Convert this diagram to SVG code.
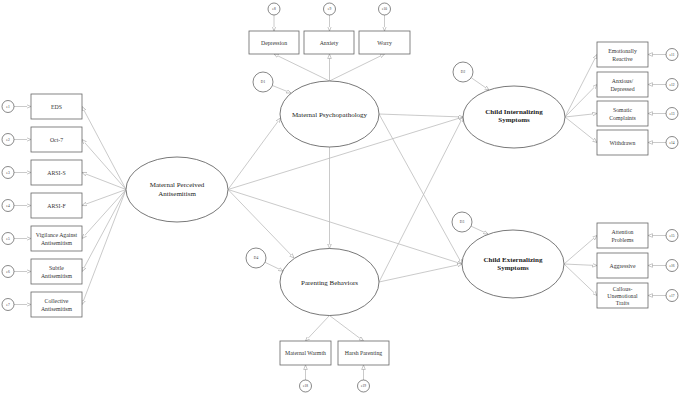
<svg xmlns="http://www.w3.org/2000/svg" width="680" height="394" viewBox="0 0 680 394">
<defs>
<marker id="ah" viewBox="0 0 10 10" refX="10" refY="5" markerWidth="4.5" markerHeight="4.5" orient="auto" markerUnits="userSpaceOnUse">
<path d="M0,1 L10,5 L0,9 Z" fill="#fff" stroke="#999" stroke-width="1.2"/>
</marker>
<style>
.c line{stroke:#bdbdbd;stroke-width:0.8;marker-end:url(#ah);fill:none}
.box{fill:#fff;stroke:#666;stroke-width:0.8}
.ell{fill:#fff;stroke:#555;stroke-width:0.8}
.err{fill:#fff;stroke:#555;stroke-width:0.7}
.bt{font-family:"Liberation Serif",serif;font-size:5.8px;fill:#333;text-anchor:middle}
.et{font-family:"Liberation Serif",serif;font-size:7px;fill:#222;text-anchor:middle}
.eb{font-family:"Liberation Serif",serif;font-size:7px;fill:#222;text-anchor:middle;font-weight:bold}
.rt{font-family:"Liberation Serif",serif;font-size:3.5px;fill:#333;text-anchor:middle}
</style>
</defs>
<rect width="680" height="394" fill="#fff"/>

<g class="c" id="connectors">
<!-- error to left boxes -->
<line x1="14" y1="106.5" x2="31" y2="106.5"/>
<line x1="14" y1="139.5" x2="31" y2="139.5"/>
<line x1="14" y1="172.5" x2="31" y2="172.5"/>
<line x1="14" y1="205.5" x2="31" y2="205.5"/>
<line x1="14" y1="238.5" x2="31" y2="238.5"/>
<line x1="14" y1="271.5" x2="31" y2="271.5"/>
<line x1="14" y1="304.5" x2="31" y2="304.5"/>
<!-- MPA to left boxes -->
<line x1="126" y1="189.5" x2="82" y2="106.5"/>
<line x1="126" y1="189.5" x2="82" y2="139.5"/>
<line x1="126" y1="189.5" x2="82" y2="172.5"/>
<line x1="126" y1="189.5" x2="82" y2="205.5"/>
<line x1="126" y1="189.5" x2="82" y2="238.5"/>
<line x1="126" y1="189.5" x2="82" y2="271.5"/>
<line x1="126" y1="189.5" x2="82" y2="304.5"/>
<!-- top errors -->
<line x1="274" y1="15" x2="274" y2="31"/>
<line x1="329.5" y1="15" x2="329.5" y2="31"/>
<line x1="384.5" y1="15" x2="384.5" y2="31"/>
<!-- MP to top boxes -->
<line x1="329.5" y1="81" x2="274" y2="54"/>
<line x1="329.5" y1="81" x2="329.5" y2="54"/>
<line x1="329.5" y1="81" x2="384.5" y2="54"/>
<!-- right errors -->
<line x1="666" y1="54.5" x2="648" y2="54.5"/>
<line x1="666" y1="84.5" x2="648" y2="84.5"/>
<line x1="666" y1="113.5" x2="648" y2="113.5"/>
<line x1="666" y1="142.5" x2="648" y2="142.5"/>
<line x1="666" y1="235.5" x2="648" y2="235.5"/>
<line x1="666" y1="265.5" x2="648" y2="265.5"/>
<line x1="666" y1="295.5" x2="648" y2="295.5"/>
<!-- CIS to boxes -->
<line x1="565" y1="117" x2="597" y2="54.5"/>
<line x1="565" y1="117" x2="597" y2="84.5"/>
<line x1="565" y1="117" x2="597" y2="113.5"/>
<line x1="565" y1="117" x2="597" y2="142.5"/>
<!-- CES to boxes -->
<line x1="564" y1="264" x2="597" y2="235.5"/>
<line x1="564" y1="264" x2="597" y2="265.5"/>
<line x1="564" y1="264" x2="597" y2="295.5"/>
<!-- bottom -->
<line x1="305.5" y1="380" x2="305.5" y2="365"/>
<line x1="363.5" y1="380" x2="363.5" y2="365"/>
<line x1="329.5" y1="315.5" x2="305.5" y2="341"/>
<line x1="329.5" y1="315.5" x2="363.5" y2="341"/>
<!-- disturbances -->
<line x1="272.4" y1="85.5" x2="291" y2="93"/>
<line x1="471.2" y1="77.7" x2="489" y2="90"/>
<line x1="471.1" y1="226.2" x2="488" y2="234"/>
<line x1="265" y1="262.3" x2="283" y2="271"/>
<!-- structural -->
<line x1="228" y1="189.5" x2="280.5" y2="118"/>
<line x1="228" y1="189.5" x2="463" y2="117"/>
<line x1="228" y1="189.5" x2="294" y2="258"/>
<line x1="228" y1="189.5" x2="462" y2="264"/>
<line x1="329.5" y1="147" x2="329.5" y2="248.5"/>
<line x1="379" y1="114" x2="463" y2="117"/>
<line x1="379" y1="114" x2="462" y2="264"/>
<line x1="379" y1="282" x2="463" y2="117"/>
<line x1="379" y1="282" x2="462" y2="264"/>
</g>

<!-- latent variables -->
<g id="mpa"><ellipse class="ell" cx="177" cy="189.5" rx="51" ry="32.5"/><text class="et" x="177" y="187">Maternal Perceived</text><text class="et" x="177" y="195.5">Antisemitism</text></g>
<g id="mp"><ellipse class="ell" cx="329.5" cy="114" rx="49.5" ry="33"/><text class="et" x="329.5" y="116.5">Maternal Psychopathology</text></g>
<g id="pb"><ellipse class="ell" cx="329.5" cy="282" rx="49.5" ry="33.5"/><text class="et" x="329.5" y="284.5">Parenting Behaviors</text></g>
<g id="cis"><ellipse class="ell" cx="514" cy="117" rx="51" ry="31"/><text class="eb" x="514" y="113.5">Child Internalizing</text><text class="eb" x="514" y="122">Symptoms</text></g>
<g id="ces"><ellipse class="ell" cx="513" cy="264" rx="51" ry="34"/><text class="eb" x="513" y="261.5">Child Externalizing</text><text class="eb" x="513" y="270">Symptoms</text></g>

<!-- disturbances -->
<g id="d1"><circle class="err" cx="263" cy="82" r="10"/><text class="rt" x="263" y="83.3">D1</text></g>
<g id="d2"><circle class="err" cx="463" cy="72" r="10"/><text class="rt" x="463" y="73.3">D2</text></g>
<g id="d3"><circle class="err" cx="462" cy="222" r="10"/><text class="rt" x="462" y="223.3">D3</text></g>
<g id="d4"><circle class="err" cx="256" cy="258" r="10"/><text class="rt" x="256" y="259.3">D4</text></g>

<!-- left indicators -->
<g id="eds"><rect class="box" x="31" y="94" width="51" height="25"/><text class="bt" x="56.5" y="108.5">EDS</text></g>
<g id="oct7"><rect class="box" x="31" y="127" width="51" height="25"/><text class="bt" x="56.5" y="141.5">Oct-7</text></g>
<g id="arsis"><rect class="box" x="31" y="160" width="51" height="25"/><text class="bt" x="56.5" y="174.5">ARSI-S</text></g>
<g id="arsif"><rect class="box" x="31" y="193" width="51" height="25"/><text class="bt" x="56.5" y="207.5">ARSI-F</text></g>
<g id="vig"><rect class="box" x="31" y="226" width="51" height="25"/><text class="bt" x="56.5" y="237">Vigilance Against</text><text class="bt" x="56.5" y="244.5">Antisemitism</text></g>
<g id="sub"><rect class="box" x="31" y="259" width="51" height="25"/><text class="bt" x="56.5" y="270">Subtle</text><text class="bt" x="56.5" y="277.5">Antisemitism</text></g>
<g id="col"><rect class="box" x="31" y="292" width="51" height="25"/><text class="bt" x="56.5" y="303">Collective</text><text class="bt" x="56.5" y="310.5">Antisemitism</text></g>

<g id="e1"><circle class="err" cx="8" cy="106.5" r="6"/><text class="rt" x="8" y="107.8">e1</text></g>
<g id="e2"><circle class="err" cx="8" cy="139.5" r="6"/><text class="rt" x="8" y="140.8">e2</text></g>
<g id="e3"><circle class="err" cx="8" cy="172.5" r="6"/><text class="rt" x="8" y="173.8">e3</text></g>
<g id="e4"><circle class="err" cx="8" cy="205.5" r="6"/><text class="rt" x="8" y="206.8">e4</text></g>
<g id="e5"><circle class="err" cx="8" cy="238.5" r="6"/><text class="rt" x="8" y="239.8">e5</text></g>
<g id="e6"><circle class="err" cx="8" cy="271.5" r="6"/><text class="rt" x="8" y="272.8">e6</text></g>
<g id="e7"><circle class="err" cx="8" cy="304.5" r="6"/><text class="rt" x="8" y="305.8">e7</text></g>

<!-- top indicators -->
<g id="dep"><rect class="box" x="249" y="31" width="50" height="23"/><text class="bt" x="274" y="44.5">Depression</text></g>
<g id="anx"><rect class="box" x="304" y="31" width="50" height="23"/><text class="bt" x="329" y="44.5">Anxiety</text></g>
<g id="wor"><rect class="box" x="359" y="31" width="51" height="23"/><text class="bt" x="384.5" y="44.5">Worry</text></g>
<g id="e8"><circle class="err" cx="274" cy="9" r="6"/><text class="rt" x="274" y="10.3">e8</text></g>
<g id="e9"><circle class="err" cx="329.5" cy="9" r="6"/><text class="rt" x="329.5" y="10.3">e9</text></g>
<g id="e10"><circle class="err" cx="384.5" cy="9" r="6"/><text class="rt" x="384.5" y="10.3">e10</text></g>

<!-- right indicators -->
<g id="emo"><rect class="box" x="597" y="42" width="51" height="25"/><text class="bt" x="622.5" y="53">Emotionally</text><text class="bt" x="622.5" y="60.5">Reactive</text></g>
<g id="anxd"><rect class="box" x="597" y="72" width="51" height="25"/><text class="bt" x="622.5" y="83">Anxious/</text><text class="bt" x="622.5" y="90.5">Depressed</text></g>
<g id="som"><rect class="box" x="597" y="101" width="51" height="25"/><text class="bt" x="622.5" y="112">Somatic</text><text class="bt" x="622.5" y="119.5">Complaints</text></g>
<g id="wit"><rect class="box" x="597" y="130" width="51" height="25"/><text class="bt" x="622.5" y="144.5">Withdrawn</text></g>
<g id="att"><rect class="box" x="597" y="223" width="51" height="25"/><text class="bt" x="622.5" y="234">Attention</text><text class="bt" x="622.5" y="241.5">Problems</text></g>
<g id="agg"><rect class="box" x="597" y="253" width="51" height="25"/><text class="bt" x="622.5" y="267.5">Aggressive</text></g>
<g id="cal"><rect class="box" x="597" y="283" width="51" height="25"/><text class="bt" x="622.5" y="291">Callous-</text><text class="bt" x="622.5" y="298">Unemotional</text><text class="bt" x="622.5" y="305">Traits</text></g>
<g id="e11"><circle class="err" cx="672" cy="54.5" r="6"/><text class="rt" x="672" y="55.8">e11</text></g>
<g id="e12"><circle class="err" cx="672" cy="84.5" r="6"/><text class="rt" x="672" y="85.8">e12</text></g>
<g id="e13"><circle class="err" cx="672" cy="113.5" r="6"/><text class="rt" x="672" y="114.8">e13</text></g>
<g id="e14"><circle class="err" cx="672" cy="142.5" r="6"/><text class="rt" x="672" y="143.8">e14</text></g>
<g id="e15"><circle class="err" cx="672" cy="235.5" r="6"/><text class="rt" x="672" y="236.8">e15</text></g>
<g id="e16"><circle class="err" cx="672" cy="265.5" r="6"/><text class="rt" x="672" y="266.8">e16</text></g>
<g id="e17"><circle class="err" cx="672" cy="295.5" r="6"/><text class="rt" x="672" y="296.8">e17</text></g>

<!-- bottom indicators -->
<g id="mw"><rect class="box" x="280" y="341" width="51" height="24"/><text class="bt" x="305.5" y="355">Maternal Warmth</text></g>
<g id="hp"><rect class="box" x="338" y="341" width="51" height="24"/><text class="bt" x="363.5" y="355">Harsh Parenting</text></g>
<g id="e18"><circle class="err" cx="305.5" cy="386" r="6"/><text class="rt" x="305.5" y="387.3">e18</text></g>
<g id="e19"><circle class="err" cx="363.5" cy="386" r="6"/><text class="rt" x="363.5" y="387.3">e19</text></g>
</svg>
